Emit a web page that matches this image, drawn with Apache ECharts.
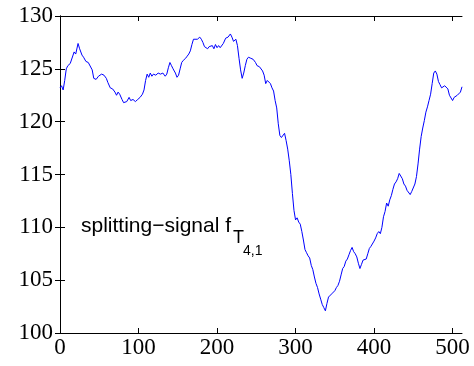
<!DOCTYPE html>
<html>
<head>
<meta charset="utf-8">
<script src="https://cdn.jsdelivr.net/npm/echarts@6/dist/echarts.min.js"></script>
<style>html,body{margin:0;padding:0;background:#fff;}#c{width:474px;height:366px;}</style>
</head>
<body>
<div id="c"></div>
<script>
const xTicks = [0, 100, 200, 300, 400, 500];
const yTicks = [100, 105, 110, 115, 120, 125, 130];
const signalX = [0,2,4,6,8,10,13,15,18,20,23,25,28,30,33,36,38,41,43,46,49,53,56,59,61,64,67,70,72,74,76,79,81,83,85,88,90,93,96,99,102,105,107,109,111,113,115,117,119,122,125,128,131,134,136,138,140,142,144,147,149,151,153,155,157,160,162,164,166,168,170,172,175,178,180,182,184,186,188,190,192,194,196,198,200,202,204,206,208,211,214,217,219,221,224,226,228,230,232,234,236,238,240,243,246,249,251,254,256,258,260,262,264,266,268,270,272,274,276,278,280,282,284,286,288,290,292,294,296,298,300,302,304,306,308,310,312,314,316,318,320,322,324,326,328,330,332,334,336,338,340,342,344,346,348,350,352,354,356,358,360,362,364,366,368,370,372,374,376,378,380,382,384,386,388,390,392,394,396,398,400,402,404,406,408,410,412,414,416,418,420,422,424,426,428,430,432,434,436,438,440,442,444,446,448,450,452,454,456,458,460,462,464,466,468,470,472,474,476,478,480,482,484,486,488,490,492,494,496,498,500,502,504,506,508,510,512];
const signalY = [123.2,123.4,123.0,123.9,125.0,125.3,125.5,125.4,126.6,126.4,127.4,126.9,126.3,126.1,125.7,125.6,125.5,124.9,124.1,124.0,124.3,124.5,124.4,124.1,123.7,123.2,123.1,122.8,122.5,122.8,122.6,122.1,121.8,121.7,121.9,122.3,122.0,122.1,121.9,122.1,122.3,122.6,123.0,123.9,124.5,124.2,124.6,124.3,124.5,124.4,124.6,124.5,124.6,124.3,124.5,125.1,125.6,125.3,125.0,124.6,124.2,124.4,125.0,125.6,125.8,126.0,126.2,126.4,126.7,127.3,127.8,127.7,127.8,128.0,127.8,127.5,127.1,127.2,126.9,127.1,127.0,127.2,126.9,127.3,127.0,127.2,127.0,127.1,127.4,127.9,128.0,128.3,128.0,127.6,127.8,127.2,126.0,124.9,124.1,124.6,125.3,125.9,126.1,126.0,125.9,125.6,125.3,125.2,125.1,124.8,124.4,123.6,123.9,124.0,123.6,123.2,122.9,122.0,121.3,119.8,118.7,118.5,118.6,118.9,118.2,117.4,116.3,115.0,113.2,111.6,110.7,110.9,110.5,110.3,109.6,108.8,107.9,107.6,107.3,107.1,106.4,106.0,105.3,104.7,104.3,103.7,103.2,102.7,102.4,102.1,102.8,103.4,103.3,103.7,103.6,104.0,104.3,104.5,104.9,105.5,106.1,106.3,106.8,107.0,107.4,107.8,108.1,107.7,107.5,107.2,106.6,106.1,106.5,106.9,106.8,107.0,107.5,108.0,108.2,108.1,108.7,109.0,109.4,109.6,109.4,110.0,111.0,111.5,112.3,112.0,112.6,113.0,113.6,114.1,114.3,114.6,115.1,115.0,114.6,114.1,113.9,113.5,113.4,113.1,113.4,113.5,114.1,114.8,116.0,117.4,118.6,119.4,120.1,120.9,121.4,122.0,122.6,123.6,124.6,124.8,124.5,123.8,123.5,123.2,123.3,123.4,123.4,123.1,122.5,122.4,122.0,122.3,122.2,122.5,122.4,122.8,123.3];

const serif = '"Liberation Serif", "DejaVu Serif", serif';
const sans = '"Liberation Sans", Arial, sans-serif';
const data = signalX.map((x, i) => [x, signalY[i]]);
const axisLine = { show: true, lineStyle: { color: '#000', width: 1 } };

const chart = echarts.init(document.getElementById('c'), null, { renderer: 'canvas' });
chart.setOption({
  animation: false,
  backgroundColor: '#fff',
  grid: { left: 60, top: 16, right: 12, bottom: 33, containLabel: false },
  xAxis: [
    { type: 'value', min: 0, max: 512, position: 'bottom', axisLine,
      axisTick: { show: true, inside: true, length: 5, customValues: xTicks, lineStyle: { color: '#000' } },
      axisLabel: { show: true, customValues: xTicks, margin: 3, color: '#000', fontFamily: serif, fontSize: 23 },
      splitLine: { show: false } },
    { type: 'value', min: 0, max: 512, position: 'top', axisLine,
      axisTick: { show: true, inside: true, length: 5, customValues: xTicks, lineStyle: { color: '#000' } },
      axisLabel: { show: false }, splitLine: { show: false } }
  ],
  yAxis: [
    { type: 'value', min: 100, max: 130, interval: 5, position: 'left', axisLine,
      axisTick: { show: true, inside: true, length: 5, lineStyle: { color: '#000' } },
      axisLabel: { show: true, margin: 7, color: '#000', fontFamily: serif, fontSize: 23 },
      splitLine: { show: false } },
    { type: 'value', min: 100, max: 130, interval: 5, position: 'right', axisLine,
      axisTick: { show: true, inside: true, length: 5, lineStyle: { color: '#000' } },
      axisLabel: { show: false }, splitLine: { show: false } }
  ],
  series: [{
    type: 'line', data, showSymbol: false, symbol: 'none',
    lineStyle: { color: '#0000ff', width: 1 }, xAxisIndex: 0, yAxisIndex: 0
  }],
  graphic: [
    { type: 'text', left: 81, top: 216, style: { text: 'splitting\u2212signal f', font: '21px ' + sans, fill: '#000' } },
    { type: 'text', left: 233, top: 229, style: { text: 'T', font: '18px ' + sans, fill: '#000' } },
    { type: 'text', left: 243, top: 244, style: { text: '4,1', font: '14px ' + sans, fill: '#000' } }
  ]
});
</script>
</body>
</html>
